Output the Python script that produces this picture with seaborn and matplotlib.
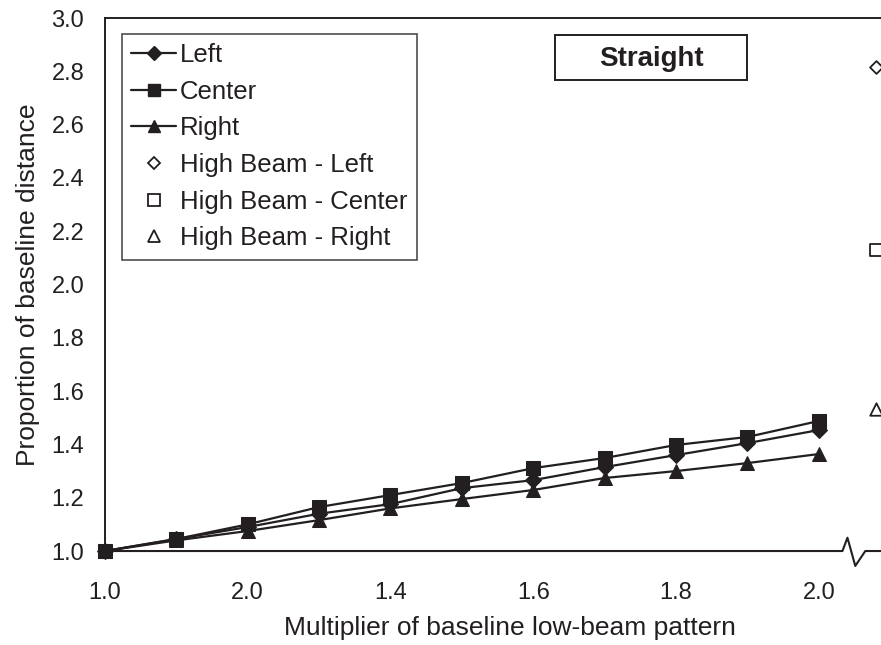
import numpy as np
import pandas as pd
import matplotlib
matplotlib.use("Agg")
import matplotlib.pyplot as plt
import matplotlib.transforms as mtransforms
from matplotlib.lines import Line2D
from matplotlib.patches import Rectangle
import seaborn as sns

# ---- data ----
multipliers = ["1.0", "1.1", "1.2", "1.3", "1.4", "1.5", "1.6", "1.7", "1.8", "1.9", "2.0"]
tick_labels = ["1.0", "2.0", "1.4", "1.6", "1.8", "2.0"]   # labels as printed (every other position)
left_vals = [1.00, 1.045, 1.09, 1.14, 1.176, 1.236, 1.266, 1.315, 1.36, 1.405, 1.454]
center_vals = [1.00, 1.045, 1.10, 1.165, 1.21, 1.255, 1.311, 1.349, 1.398, 1.428, 1.488]
right_vals = [1.00, 1.04, 1.075, 1.116, 1.16, 1.195, 1.229, 1.274, 1.30, 1.33, 1.364]
high_beam_labels = ["High Beam - Left", "High Beam - Center", "High Beam - Right"]
high_beam_vals = [2.816, 2.13, 1.533]
series_names = ["Left", "Center", "Right"]

INK = "#231f20"
FS_TICK = 17
FS_LAB = 19
FS_LEG = 18.5
sns.set_style("white")
plt.rcParams["font.family"] = ["Liberation Sans", "DejaVu Sans"]

fig = plt.figure(figsize=(8.81, 6.45), dpi=100)
ax = fig.add_axes([0.119, 0.1457, 0.881, 0.8263])

pos = np.arange(len(multipliers))
df = pd.DataFrame({
    "pos": np.tile(pos, 3),
    "value": left_vals + center_vals + right_vals,
    "series": np.repeat(series_names, len(multipliers)),
})

markers = {"Left": "D", "Center": "s", "Right": "^"}
msizes = {"Left": 8, "Center": 9.5, "Right": 10}
for name in series_names:
    sub = df[df["series"] == name]
    sns.lineplot(data=sub, x="pos", y="value", ax=ax, color=INK, lw=1.6,
                 marker=markers[name], markersize=msizes[name],
                 markeredgecolor=INK, markerfacecolor=INK, label=name, legend=False,
                 clip_on=False, zorder=3)

# high beam points placed beyond the axis break
hb_x = pos[-1] + 0.8
hb_markers = ["D", "s", "^"]
hb_sizes = [6.5, 8, 9]
for lab, val, m, s in zip(high_beam_labels, high_beam_vals, hb_markers, hb_sizes):
    sns.scatterplot(x=[hb_x], y=[val], ax=ax, marker=m, s=s**2,
                    facecolor="white", edgecolor=INK, linewidth=1.3, legend=False)

ax.set_xlim(0, pos[-1] + 0.87)
ax.set_ylim(1.0, 3.0)
ax.set_yticks(np.arange(1.0, 3.01, 0.2))
ax.set_yticklabels([f"{v:.1f}" for v in np.arange(1.0, 3.01, 0.2)], fontsize=FS_TICK, color=INK)
ax.set_xticks(pos[::2])
ax.set_xticklabels(tick_labels, fontsize=FS_TICK, color=INK)
ax.tick_params(axis="both", direction="out", length=5.8, width=1.3, color=INK)
ax.tick_params(axis="y", pad=9)
ax.tick_params(axis="x", pad=16.5)

ax.set_xlabel("Multiplier of baseline low-beam pattern", fontsize=FS_LAB, color=INK, labelpad=9)
ax.set_ylabel("Proportion of baseline distance", fontsize=FS_LAB, color=INK, labelpad=8)
ax.xaxis.label.set_x(0.522)

for side in ["left", "top"]:
    ax.spines[side].set_visible(True)
    ax.spines[side].set_color(INK)
    ax.spines[side].set_linewidth(1.4)
ax.spines["right"].set_visible(False)
ax.spines["bottom"].set_visible(False)

# bottom axis line with a break zigzag
trans = mtransforms.blended_transform_factory(ax.transData, ax.transAxes)
bx = [0, 10.33, 10.4, 10.51, 10.65, 11.0]
by = [0, 0, 0.025, -0.028, 0, 0]
ax.add_line(Line2D(bx, by, transform=trans, color=INK, lw=1.5, clip_on=False))

# legend
handles = [
    Line2D([], [], color=INK, lw=1.6, marker="D", ms=7.5, mfc=INK, mec=INK),
    Line2D([], [], color=INK, lw=1.6, marker="s", ms=8.5, mfc=INK, mec=INK),
    Line2D([], [], color=INK, lw=1.6, marker="^", ms=9, mfc=INK, mec=INK),
    Line2D([], [], ls="none", marker="D", ms=6.5, mfc="white", mec=INK, mew=1.3),
    Line2D([], [], ls="none", marker="s", ms=8, mfc="white", mec=INK, mew=1.3),
    Line2D([], [], ls="none", marker="^", ms=8.5, mfc="white", mec=INK, mew=1.3),
]
labels = series_names + high_beam_labels
leg = ax.legend(handles, labels, loc="upper left", bbox_to_anchor=(0.022, 0.97),
                fontsize=FS_LEG, frameon=True, fancybox=False, handlelength=1.75,
                handletextpad=0.15, labelspacing=0.49, borderpad=0.36,
                borderaxespad=0)
leg.get_frame().set_edgecolor(INK)
leg.get_frame().set_linewidth(1.2)
for t in leg.get_texts():
    t.set_color(INK)

# "Straight" title box
ax.add_patch(Rectangle((0.580, 0.8837), 0.2475, 0.0843, transform=ax.transAxes,
                       fc="white", ec=INK, lw=1.4, zorder=4))
ax.text(0.7045, 0.924, "Straight", transform=ax.transAxes, ha="center", va="center",
        fontsize=20, fontweight="bold", color=INK, zorder=5)

fig.savefig("out.png", dpi=100)
